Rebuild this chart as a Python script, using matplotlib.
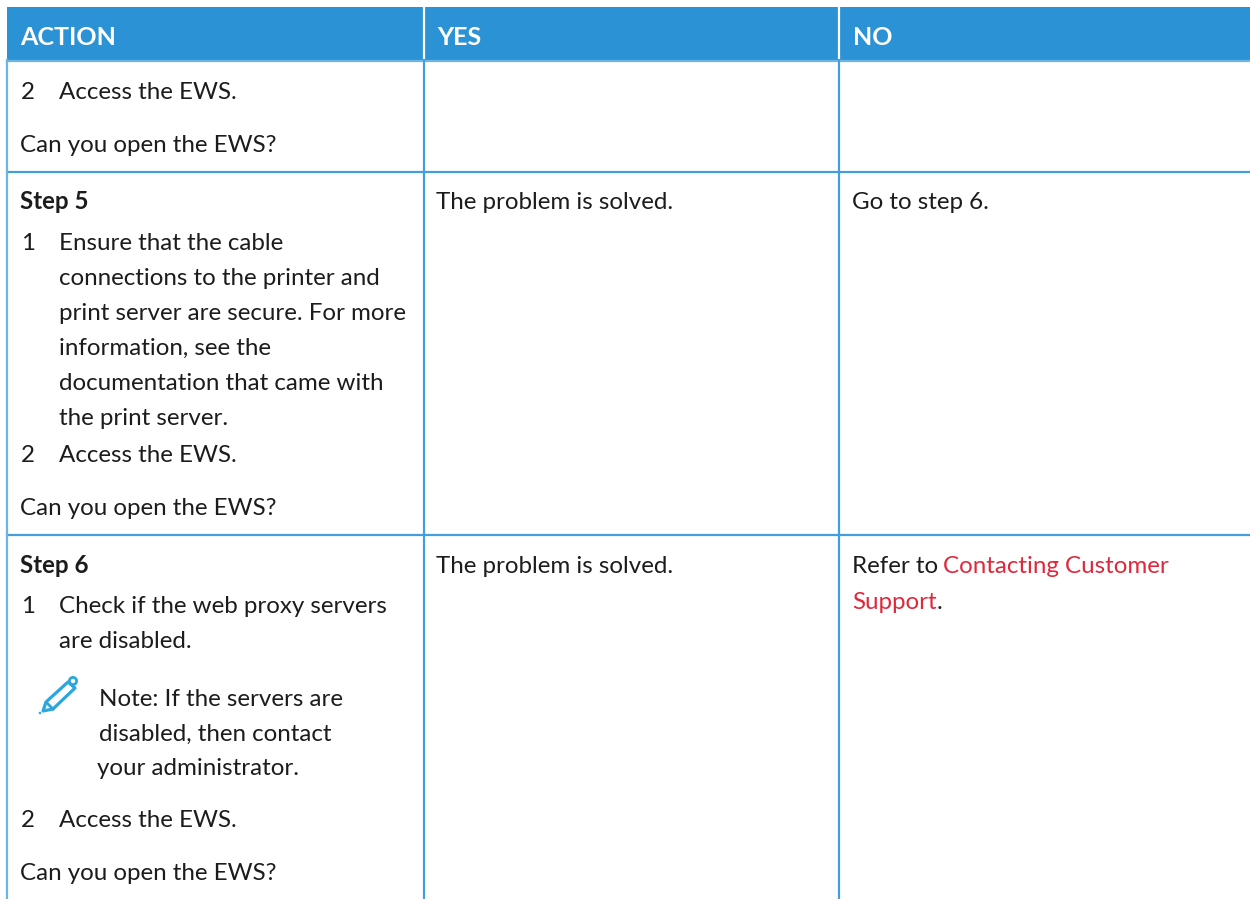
import matplotlib
matplotlib.use("Agg")
import matplotlib.pyplot as plt
from matplotlib.patches import Rectangle, Polygon, Circle

plt.rcParams['font.family'] = ['Lato', 'DejaVu Sans']

#Table text
headers = ["ACTION", "YES", "NO"]
header_x = [20, 437, 853]
col_x = [20, 436, 852]
num_x = 21
item_x = 59
note_x = 99

#(x, baseline, text, bold)
action_lines = [
    (num_x, 99, "2", False), (item_x, 99, "Access the EWS.", False),
    (col_x[0], 152, "Can you open the EWS?", False),
    (col_x[0], 209, "Step 5", True),
    (num_x, 250, "1", False), (item_x, 250, "Ensure that the cable", False),
    (item_x, 285, "connections to the printer and", False),
    (item_x, 320, "print server are secure. For more", False),
    (item_x, 355, "information, see the", False),
    (item_x, 390, "documentation that came with", False),
    (item_x, 425, "the print server.", False),
    (num_x, 462, "2", False), (item_x, 462, "Access the EWS.", False),
    (col_x[0], 515, "Can you open the EWS?", False),
    (col_x[0], 573, "Step 6", True),
    (num_x, 613, "1", False), (item_x, 613, "Check if the web proxy servers", False),
    (item_x, 648, "are disabled.", False),
    (note_x, 706, "Note: If the servers are", False),
    (note_x, 741, "disabled, then contact", False),
    (97, 775, "your administrator.", False),
    (num_x, 827, "2", False), (item_x, 827, "Access the EWS.", False),
    (col_x[0], 880, "Can you open the EWS?", False),
]
yes_lines = [(col_x[1], 209, "The problem is solved."), (col_x[1], 573, "The problem is solved.")]
no_lines = [(col_x[2], 209, "Go to step 6.")]

header_blue = "#2b93d5"
line_blue = "#429fdc"
light_blue = "#6cb6e4"
text_col = "#1c1c1c"
link_red = "#e0283c"
pencil_col = "#29a8e0"
fs = 17.4

fig = plt.figure(figsize=(12.5, 8.99), dpi=100)
ax = fig.add_axes([0, 0, 1, 1])
ax.set_xlim(0, 1250)
ax.set_ylim(899, 0)
ax.axis("off")

#Header
ax.add_patch(Rectangle((7, 7), 1243, 53, fc=header_blue, ec="none"))
ax.plot([423.5, 423.5], [7, 60], color="white", lw=1.6)
ax.plot([838.5, 838.5], [7, 60], color="white", lw=1.6)
for x, h in zip(header_x, headers):
    ax.text(x, 45, h, color="white", fontsize=18, fontweight="bold", va="baseline")

#Grid lines
ax.plot([7, 1250], [60.5, 60.5], color=light_blue, lw=1.6)
ax.plot([7, 1250], [171.5, 171.5], color=line_blue, lw=1.6)
ax.plot([7, 1250], [535, 535], color=line_blue, lw=1.6)
ax.plot([7, 7], [60, 899], color=light_blue, lw=1.6)
ax.plot([423.5, 423.5], [60, 899], color=line_blue, lw=1.6)
ax.plot([838.5, 838.5], [60, 899], color=line_blue, lw=1.6)

#Cell text
for x, y, s, bold in action_lines:
    ax.text(x, y, s, color=text_col, fontsize=fs, va="baseline",
            fontweight="bold" if bold else "normal")
for x, y, s in yes_lines + no_lines:
    ax.text(x, y, s, color=text_col, fontsize=fs, va="baseline")

#Link cell
ax.text(col_x[2], 573, "Refer to", color=text_col, fontsize=fs, va="baseline")
ax.text(943, 573, "Contacting Customer", color=link_red, fontsize=fs, va="baseline")
ax.text(col_x[2], 609, "Support", color=link_red, fontsize=fs, va="baseline")
ax.text(937, 609, ".", color=text_col, fontsize=fs, va="baseline")

#Note pencil
pencil = [(46, 702), (68, 682), (75, 688), (53, 709), (43, 711)]
ax.add_patch(Polygon(pencil, closed=True, fc="none", ec=pencil_col, lw=2.3, joinstyle="round"))
ax.add_patch(Circle((73, 681), 3.6, fc="none", ec=pencil_col, lw=2))
ax.add_patch(Circle((40, 713), 1.3, fc=pencil_col, ec="none"))
ax.plot([47, 53], [703, 709], color=pencil_col, lw=2)

fig.savefig("out.png", dpi=100)
